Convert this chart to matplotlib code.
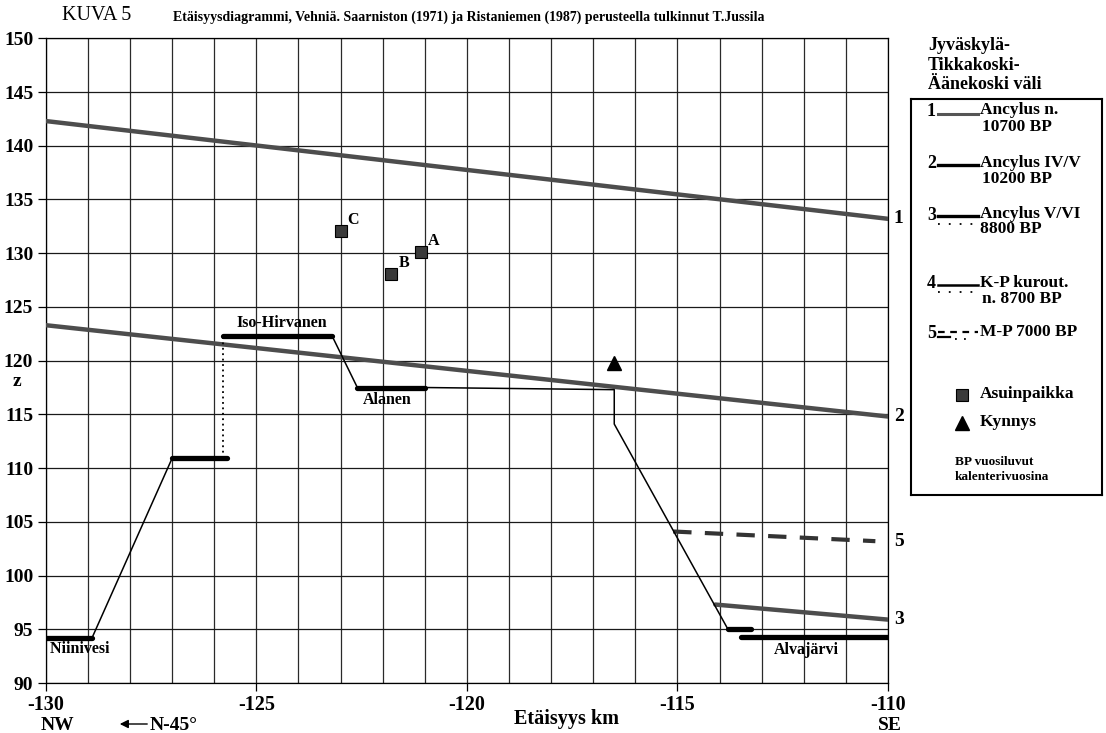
"""
Etäisyysdiagrammi (KUVA 5): shorelines and lake profile, Jyväskylä-Tikkakoski-Äänekoski.
"""

import matplotlib
matplotlib.use("Agg")
import matplotlib.pyplot as plt

plt.rcParams["font.family"] = ["Liberation Serif", "DejaVu Serif"]
plt.rcParams["font.weight"] = "bold"

W, H = 1106, 733

DIST_RANGE = (-130, -110)
Z_RANGE = (90, 150)

# Ancylus shorelines (distance km, z m)
SHORE_1_X = [-130, -110]
SHORE_1_Z = [142.3, 133.2]
SHORE_2_X = [-130, -110]
SHORE_2_Z = [123.3, 114.8]
SHORE_3_X = [-114.1, -110]
SHORE_3_Z = [97.3, 95.9]
SHORE_5_X = [-115.1, -110.3]
SHORE_5_Z = [104.1, 103.2]

# Terrain profile between the lakes
PROFILE_X = [-128.9, -127.0, -125.75]
PROFILE_Z = [94.2, 110.9, 110.9]
PROFILE2_X = [-123.2, -122.6, -121.0, -116.5, -116.5, -113.8]
PROFILE2_Z = [122.3, 117.5, 117.5, 117.3, 114.1, 95.0]
SPILL_X = [-125.8, -125.8]
SPILL_Z = [110.9, 122.3]

# Lake levels: (start km, end km, z)
LAKE_X0 = [-130.0, -127.0, -125.8, -122.6, -113.8, -113.5]
LAKE_X1 = [-128.9, -125.7, -123.2, -121.0, -113.25, -110.0]
LAKE_Z = [94.2, 110.9, 122.3, 117.5, 95.0, 94.3]

# Dwelling sites and threshold
SITE_NAMES = ["A", "B", "C"]
SITE_X = [-121.1, -121.8, -123.0]
SITE_Z = [130.1, 128.1, 132.1]
THRESHOLD_X = [-116.5]
THRESHOLD_Z = [119.8]

SHORE_GREY = "#4d4d4d"


def fx(px):
    return px / W


def fy(py):
    return 1 - py / H


fig = plt.figure(figsize=(W / 100, H / 100), dpi=100)
ax = fig.add_axes([fx(45.7), fy(683), fx(888) - fx(45.7), fy(38.3) - fy(683)])
ax.set_xlim(*DIST_RANGE)
ax.set_ylim(*Z_RANGE)

# grid: every km and every 5 m
for x in range(DIST_RANGE[0], DIST_RANGE[1] + 1):
    ax.axvline(x, color="#2a2a2a", lw=0.9, zorder=1)
for z in range(Z_RANGE[0], Z_RANGE[1] + 1, 5):
    ax.axhline(z, color="#1a1a1a", lw=0.9, zorder=1)
for s in ax.spines.values():
    s.set_linewidth(0.9)

ax.set_xticks(range(-130, -109, 5))
ax.set_xticklabels([str(v) for v in range(-130, -109, 5)])
ax.set_yticks(range(90, 151, 5))
ax.tick_params(axis="both", length=6, width=0.9, direction="out")
ax.tick_params(axis="x", pad=3, labelsize=14.5)
ax.tick_params(axis="y", pad=3, labelsize=14)
for lbl in ax.get_xticklabels() + ax.get_yticklabels():
    lbl.set_fontweight("bold")

# shorelines
ax.plot(SHORE_1_X, SHORE_1_Z, color=SHORE_GREY, lw=3.2, solid_capstyle="round", zorder=3)
ax.plot(SHORE_2_X, SHORE_2_Z, color=SHORE_GREY, lw=3.2, solid_capstyle="round", zorder=3)
ax.plot(SHORE_3_X, SHORE_3_Z, color=SHORE_GREY, lw=3.2, solid_capstyle="round", zorder=3)
ax.plot(SHORE_5_X, SHORE_5_Z, color="#333333", lw=3.0, linestyle=(0, (4.4, 3.2)),
        zorder=3)

# profile
ax.plot(PROFILE_X, PROFILE_Z, color="black", lw=1.1, zorder=4)
ax.plot(PROFILE2_X, PROFILE2_Z, color="black", lw=1.1, zorder=4)
ax.plot(SPILL_X, SPILL_Z, color="black", lw=1.3, linestyle=(0, (1, 2)), zorder=4)
for x0, x1, z in zip(LAKE_X0, LAKE_X1, LAKE_Z):
    ax.plot([x0, x1], [z, z], color="black", lw=3.8, solid_capstyle="round", zorder=5)

# sites and threshold
ax.plot(SITE_X, SITE_Z, linestyle="none", marker="s", markersize=8,
        markerfacecolor="#3a3a3a", markeredgecolor="black", markeredgewidth=0.8, zorder=6)
ax.plot(THRESHOLD_X, THRESHOLD_Z, linestyle="none", marker="^", markersize=10,
        color="black", zorder=6)
for name, x, z in zip(SITE_NAMES, SITE_X, SITE_Z):
    ax.text(x + 0.3, z + 1.0, name, fontsize=11.5, ha="center", va="center", zorder=7)

# lake names
ax.text(-124.4, 123.5, "Iso-Hirvanen", fontsize=11.5, ha="center", va="center", zorder=7)
ax.text(-121.9, 116.3, "Alanen", fontsize=11.5, ha="center", va="center", zorder=7)
ax.text(-130, 93.2, " Niinivesi", fontsize=11.5, ha="left", va="center", zorder=7)
ax.text(-111.95, 93.1, "Alvajärvi", fontsize=11.5, ha="center", va="center", zorder=7)

# shoreline numbers at the right edge
for num, z in [("1", SHORE_1_Z[-1]), ("2", SHORE_2_Z[-1]), ("3", SHORE_3_Z[-1]),
               ("5", SHORE_5_Z[-1])]:
    ax.text(-109.86, z, num, fontsize=14, ha="left", va="center", clip_on=False)

fig.text(fx(17), fy(382), "z", fontsize=14, ha="center", va="center")

# title
fig.text(fx(62), fy(16), "KUVA 5", fontsize=14.5, fontweight="normal", ha="left",
         va="center")
fig.text(fx(173), fy(17),
         "Etäisyysdiagrammi, Vehniä. Saarniston (1971) ja Ristaniemen (1987) "
         "perusteella tulkinnut T.Jussila",
         fontsize=10, ha="left", va="center")

# x-axis captions
fig.text(fx(567), fy(719), "Etäisyys km", fontsize=14.5, ha="center", va="center")
fig.text(fx(57), fy(726), "NW", fontsize=14, ha="center", va="center")
fig.text(fx(890), fy(726), "SE", fontsize=14, ha="center", va="center")
fig.text(fx(150), fy(725), "N-45°", fontsize=14, ha="left", va="center")
fig.add_artist(matplotlib.patches.FancyArrowPatch(
    (fx(150), fy(724)), (fx(117), fy(724)), transform=fig.transFigure,
    arrowstyle="-|>,head_length=5,head_width=2.5", color="black", lw=1.0))

# side heading
fig.text(fx(928), fy(65), "Jyväskylä-\nTikkakoski-\nÄänekoski väli", fontsize=13,
         ha="left", va="center", linespacing=1.2)

# legend box, drawn in pixel units
lg = fig.add_axes([fx(911), fy(495), fx(1102) - fx(911), fy(99) - fy(495)])
lg.set_xlim(911, 1102)
lg.set_ylim(495, 99)
lg.set_xticks([])
lg.set_yticks([])
for s in lg.spines.values():
    s.set_linewidth(1.5)

LX0, LX1 = 938, 978
lg.text(927, 112, "1", fontsize=13, va="center")
lg.plot([LX0, LX1], [114, 114], color="#555555", lw=2.2)
lg.text(980, 110, "Ancylus n.", fontsize=12.5, va="center")
lg.text(982, 127, "10700 BP", fontsize=12.5, va="center")

lg.text(927, 164, "2", fontsize=13, va="center")
lg.plot([LX0, LX1], [165, 165], color="black", lw=2.4)
lg.text(980, 163, "Ancylus IV/V", fontsize=12.5, va="center")
lg.text(982, 179, "10200 BP", fontsize=12.5, va="center")

lg.text(927, 215, "3", fontsize=13, va="center")
lg.plot([LX0, LX1], [216, 216], color="black", lw=2.4)
lg.plot([LX0, LX1], [224, 224], color="black", lw=1.3, linestyle=(0, (1, 5)))
lg.text(980, 214, "Ancylus V/VI", fontsize=12.5, va="center")
lg.text(980, 229, "8800 BP", fontsize=12.5, va="center")

lg.text(927, 284, "4", fontsize=13, va="center")
lg.plot([LX0, LX1], [285, 285], color="black", lw=1.8)
lg.plot([LX0, LX1], [292, 292], color="black", lw=1.3, linestyle=(0, (1, 5)))
lg.text(980, 283, "K-P kurout.", fontsize=12.5, va="center")
lg.text(982, 299, "n. 8700 BP", fontsize=12.5, va="center")

lg.text(927, 333, "5", fontsize=13, va="center")
lg.plot([LX0, LX1], [332, 332], color="black", lw=1.6, linestyle=(0, (3, 2.5)))
lg.plot([LX0, 950], [337, 337], color="black", lw=1.6)
lg.plot([955, 968], [339, 339], color="black", lw=1.3, linestyle=(0, (1, 4)))
lg.text(980, 332, "M-P 7000 BP", fontsize=12.5, va="center")

lg.plot([962], [395], marker="s", markersize=8, markerfacecolor="#3a3a3a",
        markeredgecolor="black", markeredgewidth=0.8)
lg.text(980, 394, "Asuinpaikka", fontsize=12.5, va="center")
lg.plot([962], [423], marker="^", markersize=10, color="black")
lg.text(980, 422, "Kynnys", fontsize=12.5, va="center")

lg.text(955, 462, "BP vuosiluvut", fontsize=9.5, va="center")
lg.text(955, 477, "kalenterivuosina", fontsize=9.5, va="center")

fig.savefig("out.png", dpi=100)
